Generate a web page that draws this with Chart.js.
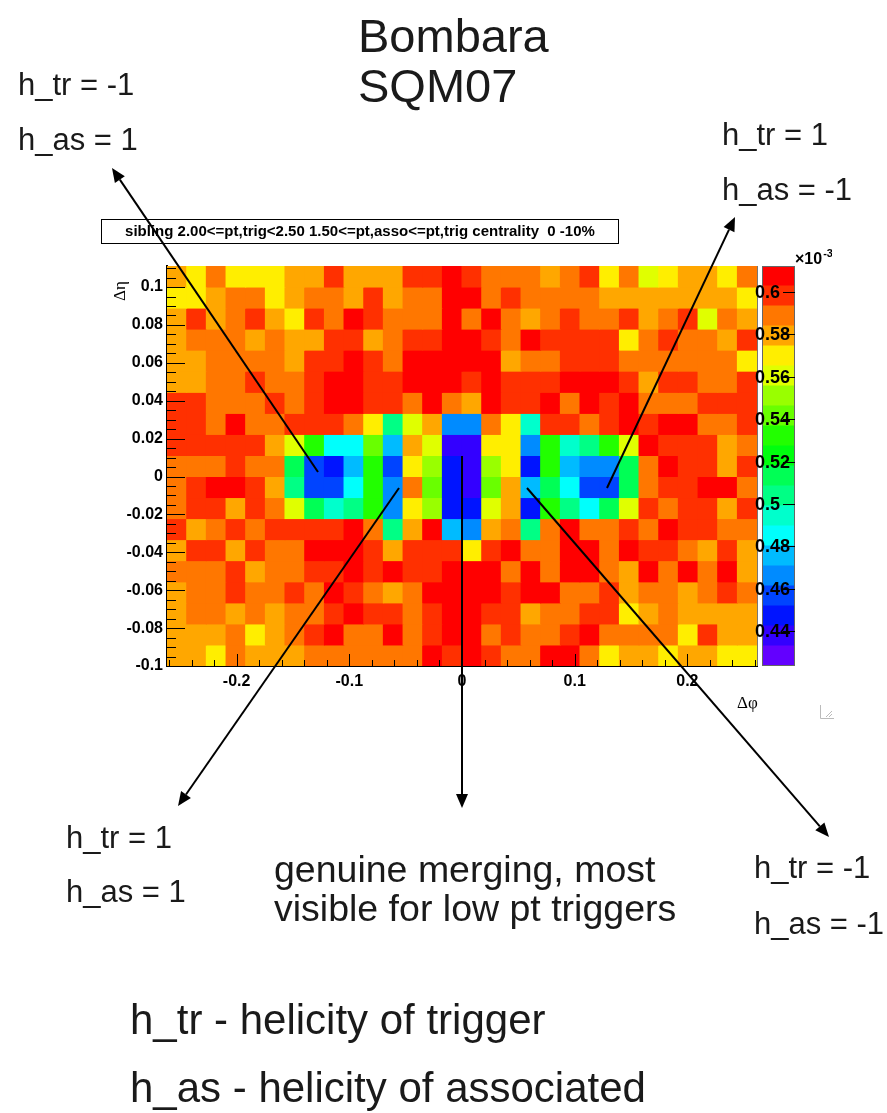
<!DOCTYPE html>
<html>
<head>
<meta charset="utf-8">
<script src="https://cdn.jsdelivr.net/npm/chart.js@4.4.1/dist/chart.umd.min.js"></script>
<style>
  html, body { margin: 0; padding: 0; background: #fff; }
  #page { position: relative; width: 887px; height: 1113px; overflow: hidden; }
  #main { position: absolute; left: 0; top: 0; width: 887px; height: 1113px; }
  #zbar { position: absolute; left: 740px; top: 240px; width: 100px; height: 445px; }
</style>
</head>
<body>
<div id="page">
  <canvas id="main" width="887" height="1113"></canvas>
  <canvas id="zbar" width="100" height="445"></canvas>
</div>
<script>
// delta phi bin centres (rad), 30 bins of 1 degree
const phiCenters = [
    -0.2531, -0.2356, -0.2182, -0.2007, -0.1833, -0.1658, -0.1484, -0.1309, -0.1134, -0.0960,
    -0.0785, -0.0611, -0.0436, -0.0262, -0.0087, 0.0087, 0.0262, 0.0436, 0.0611, 0.0785,
    0.0960, 0.1134, 0.1309, 0.1484, 0.1658, 0.1833, 0.2007, 0.2182, 0.2356, 0.2531,
];
// delta eta bin edges, top to bottom (19 rows)
const etaEdges = [
    0.1111, 0.1, 0.0889, 0.0778, 0.0667, 0.0556, 0.0444, 0.0333, 0.0222, 0.0111,
    0, -0.0111, -0.0222, -0.0333, -0.0444, -0.0556, -0.0667, -0.0778, -0.0889, -0.1,
];
const phiRange = [-0.2618, 0.2618];

const phiTicks = [-0.2, -0.1, 0, 0.1, 0.2];
const etaTicks = [-0.1, -0.08, -0.06, -0.04, -0.02, 0, 0.02, 0.04, 0.06, 0.08, 0.1];
const zTicks = [0.44, 0.46, 0.48, 0.5, 0.52, 0.54, 0.56, 0.58, 0.6];
const zMin = 0.4235;
const zMax = 0.6123;
const nLevels = 20;

// sibling pair density (x10^-3), one row per eta bin, top row first
const zRows = [
    [0.579, 0.569, 0.588, 0.569, 0.569, 0.569, 0.579, 0.579, 0.598, 0.579, 0.579, 0.579, 0.598, 0.598, 0.607, 0.598, 0.588, 0.588, 0.588, 0.579, 0.588, 0.598, 0.569, 0.588, 0.560, 0.569, 0.579, 0.579, 0.569, 0.588],
    [0.569, 0.569, 0.579, 0.588, 0.588, 0.569, 0.579, 0.588, 0.588, 0.579, 0.598, 0.579, 0.588, 0.588, 0.607, 0.607, 0.588, 0.598, 0.588, 0.588, 0.588, 0.588, 0.579, 0.579, 0.579, 0.579, 0.579, 0.579, 0.579, 0.569],
    [0.579, 0.598, 0.579, 0.588, 0.598, 0.579, 0.569, 0.598, 0.588, 0.607, 0.598, 0.588, 0.588, 0.588, 0.607, 0.588, 0.607, 0.588, 0.579, 0.588, 0.598, 0.588, 0.588, 0.598, 0.579, 0.588, 0.598, 0.560, 0.588, 0.579],
    [0.579, 0.588, 0.588, 0.588, 0.579, 0.588, 0.579, 0.579, 0.598, 0.598, 0.579, 0.588, 0.598, 0.598, 0.607, 0.607, 0.598, 0.588, 0.607, 0.598, 0.598, 0.598, 0.598, 0.569, 0.588, 0.598, 0.588, 0.588, 0.579, 0.598],
    [0.579, 0.579, 0.588, 0.588, 0.588, 0.588, 0.579, 0.598, 0.598, 0.607, 0.598, 0.588, 0.607, 0.607, 0.607, 0.607, 0.607, 0.579, 0.588, 0.588, 0.598, 0.598, 0.598, 0.588, 0.588, 0.588, 0.588, 0.588, 0.588, 0.569],
    [0.579, 0.579, 0.588, 0.588, 0.598, 0.588, 0.588, 0.598, 0.607, 0.607, 0.598, 0.598, 0.607, 0.607, 0.607, 0.598, 0.607, 0.598, 0.598, 0.598, 0.607, 0.607, 0.607, 0.598, 0.579, 0.598, 0.598, 0.588, 0.588, 0.598],
    [0.598, 0.598, 0.588, 0.588, 0.588, 0.598, 0.588, 0.598, 0.607, 0.607, 0.598, 0.598, 0.588, 0.607, 0.588, 0.579, 0.607, 0.598, 0.598, 0.607, 0.588, 0.607, 0.598, 0.607, 0.588, 0.588, 0.588, 0.598, 0.598, 0.598],
    [0.598, 0.598, 0.588, 0.607, 0.588, 0.588, 0.598, 0.598, 0.598, 0.588, 0.569, 0.503, 0.560, 0.579, 0.466, 0.466, 0.588, 0.569, 0.494, 0.598, 0.598, 0.588, 0.598, 0.607, 0.598, 0.607, 0.607, 0.588, 0.588, 0.598],
    [0.598, 0.598, 0.598, 0.598, 0.598, 0.579, 0.560, 0.532, 0.484, 0.484, 0.541, 0.475, 0.579, 0.560, 0.437, 0.437, 0.569, 0.569, 0.466, 0.532, 0.494, 0.503, 0.532, 0.560, 0.607, 0.598, 0.598, 0.598, 0.579, 0.588],
    [0.588, 0.588, 0.588, 0.598, 0.588, 0.588, 0.513, 0.456, 0.447, 0.475, 0.532, 0.456, 0.569, 0.551, 0.447, 0.437, 0.551, 0.569, 0.447, 0.532, 0.475, 0.466, 0.466, 0.513, 0.588, 0.607, 0.598, 0.598, 0.579, 0.598],
    [0.588, 0.598, 0.607, 0.607, 0.598, 0.579, 0.503, 0.456, 0.456, 0.484, 0.532, 0.466, 0.588, 0.541, 0.447, 0.437, 0.541, 0.579, 0.475, 0.513, 0.484, 0.456, 0.456, 0.513, 0.588, 0.598, 0.598, 0.607, 0.607, 0.588],
    [0.588, 0.598, 0.598, 0.579, 0.598, 0.588, 0.560, 0.513, 0.494, 0.503, 0.532, 0.466, 0.569, 0.551, 0.447, 0.447, 0.560, 0.579, 0.447, 0.532, 0.503, 0.484, 0.513, 0.560, 0.598, 0.588, 0.598, 0.598, 0.579, 0.598],
    [0.598, 0.579, 0.588, 0.598, 0.588, 0.598, 0.598, 0.598, 0.598, 0.607, 0.588, 0.503, 0.579, 0.607, 0.475, 0.466, 0.579, 0.588, 0.503, 0.588, 0.607, 0.588, 0.588, 0.598, 0.588, 0.607, 0.598, 0.598, 0.588, 0.588],
    [0.579, 0.598, 0.598, 0.579, 0.598, 0.588, 0.588, 0.607, 0.607, 0.607, 0.598, 0.579, 0.598, 0.598, 0.598, 0.569, 0.598, 0.607, 0.588, 0.588, 0.607, 0.607, 0.588, 0.607, 0.598, 0.598, 0.588, 0.579, 0.598, 0.579],
    [0.588, 0.588, 0.588, 0.598, 0.579, 0.588, 0.588, 0.598, 0.598, 0.607, 0.598, 0.607, 0.598, 0.598, 0.607, 0.607, 0.607, 0.588, 0.607, 0.588, 0.607, 0.607, 0.588, 0.579, 0.607, 0.588, 0.607, 0.588, 0.607, 0.579],
    [0.579, 0.588, 0.588, 0.598, 0.588, 0.588, 0.598, 0.588, 0.607, 0.598, 0.588, 0.579, 0.588, 0.607, 0.607, 0.607, 0.607, 0.598, 0.607, 0.607, 0.588, 0.588, 0.598, 0.579, 0.588, 0.588, 0.579, 0.588, 0.598, 0.588],
    [0.579, 0.588, 0.588, 0.579, 0.588, 0.579, 0.588, 0.588, 0.598, 0.607, 0.598, 0.598, 0.588, 0.598, 0.607, 0.607, 0.598, 0.598, 0.579, 0.588, 0.588, 0.598, 0.598, 0.569, 0.579, 0.588, 0.579, 0.579, 0.579, 0.579],
    [0.579, 0.579, 0.579, 0.588, 0.569, 0.579, 0.588, 0.598, 0.607, 0.588, 0.588, 0.607, 0.588, 0.598, 0.607, 0.607, 0.588, 0.598, 0.588, 0.588, 0.598, 0.607, 0.588, 0.588, 0.588, 0.588, 0.569, 0.598, 0.579, 0.579],
    [0.579, 0.579, 0.569, 0.588, 0.579, 0.579, 0.579, 0.588, 0.588, 0.588, 0.588, 0.588, 0.588, 0.607, 0.598, 0.607, 0.598, 0.588, 0.588, 0.607, 0.607, 0.588, 0.569, 0.579, 0.579, 0.569, 0.579, 0.579, 0.569, 0.569],
];

// ROOT "pretty" palette: 50 hues violet -> red, 20 contours picked from it
function levelColor(k) {
    const idx = Math.floor((k + 0.99) * 50 / nLevels);
    const hue = 280 - (idx + 1) * 280 / 50;
    return `hsl(${hue.toFixed(1)}, 100%, 50%)`;
}

function zColor(z) {
    const k = Math.floor((z - zMin) / (zMax - zMin) * nLevels);
    return levelColor(Math.max(0, Math.min(nLevels - 1, k)));
}

const tickLabel = (v) => String(+Number(v).toFixed(3));
const boldFont = (size) => ({ family: "'Liberation Sans', Arial, sans-serif", size, weight: 'bold' });
const SANS = "'Liberation Sans', Arial, Helvetica, sans-serif";

const slideTexts = [
    { text: 'Bombara', x: 358, y: 52, size: 47 },
    { text: 'SQM07', x: 358, y: 102, size: 47 },
    { text: 'h_tr = -1', x: 18, y: 95, size: 31 },
    { text: 'h_as = 1', x: 18, y: 150, size: 31 },
    { text: 'h_tr = 1', x: 722, y: 145, size: 31 },
    { text: 'h_as = -1', x: 722, y: 200, size: 31 },
    { text: 'h_tr = 1', x: 66, y: 848, size: 31 },
    { text: 'h_as = 1', x: 66, y: 902, size: 31 },
    { text: 'genuine merging, most', x: 274, y: 882, size: 37.5 },
    { text: 'visible for low pt triggers', x: 274, y: 921, size: 37.5 },
    { text: 'h_tr = -1', x: 754, y: 878, size: 31 },
    { text: 'h_as = -1', x: 754, y: 934, size: 31 },
    { text: 'h_tr - helicity of trigger', x: 130, y: 1034, size: 42 },
    { text: 'h_as - helicity of associated', x: 130, y: 1102, size: 42 },
];

const arrows = [
    [318, 472, 112, 168],
    [399, 488, 178, 806],
    [462, 456, 462, 808],
    [527, 488, 829, 837],
    [607, 488, 735, 217],
];

function drawArrow(ctx, x0, y0, x1, y1) {
    const ang = Math.atan2(y1 - y0, x1 - x0);
    const len = 14;
    const half = 6;
    const bx = x1 - len * Math.cos(ang);
    const by = y1 - len * Math.sin(ang);
    ctx.beginPath();
    ctx.moveTo(x0, y0);
    ctx.lineTo(bx, by);
    ctx.stroke();
    ctx.beginPath();
    ctx.moveTo(x1, y1);
    ctx.lineTo(bx + half * Math.sin(ang), by - half * Math.cos(ang));
    ctx.lineTo(bx - half * Math.sin(ang), by + half * Math.cos(ang));
    ctx.closePath();
    ctx.fill();
}

const innerTicks = {
    id: 'innerTicks',
    afterDatasetsDraw(chart) {
        const { ctx, chartArea: a, scales: { x, y } } = chart;
        ctx.save();
        ctx.strokeStyle = '#000';
        ctx.lineWidth = 1;
        ctx.beginPath();
        for (let i = -13; i <= 13; i++) {
            const px = Math.round(x.getPixelForValue(i * 0.02)) + 0.5;
            const len = i % 5 === 0 ? 12 : 6;
            ctx.moveTo(px, a.bottom);
            ctx.lineTo(px, a.bottom - len);
        }
        for (let i = -20; i <= 22; i++) {
            const py = Math.round(y.getPixelForValue(i * 0.005)) + 0.5;
            const len = i % 4 === 0 ? 18 : 9;
            ctx.moveTo(a.left, py);
            ctx.lineTo(a.left + len, py);
        }
        ctx.stroke();
        // right frame edge
        ctx.strokeStyle = '#777';
        ctx.beginPath();
        ctx.moveTo(Math.round(a.right) + 0.5, a.top);
        ctx.lineTo(Math.round(a.right) + 0.5, a.bottom);
        ctx.stroke();
        ctx.restore();
    },
    afterDraw(chart) {
        const ctx = chart.ctx;
        ctx.save();

        // histogram title box
        ctx.fillStyle = '#fff';
        ctx.fillRect(101, 219, 517, 24);
        ctx.strokeStyle = '#000';
        ctx.lineWidth = 1;
        ctx.strokeRect(101.5, 219.5, 517, 24);
        ctx.fillStyle = '#000';
        ctx.font = `bold 15px ${SANS}`;
        ctx.textAlign = 'center';
        ctx.textBaseline = 'middle';
        ctx.fillText('sibling 2.00<=pt,trig<2.50 1.50<=pt,asso<=pt,trig centrality  0 -10%', 360, 232);

        // axis titles
        ctx.font = "17px 'Liberation Serif', 'Times New Roman', serif";
        ctx.textAlign = 'left';
        ctx.textBaseline = 'alphabetic';
        ctx.fillText('\u0394\u03c6', 737, 708);
        ctx.save();
        ctx.translate(125, 301);
        ctx.rotate(-Math.PI / 2);
        ctx.fillText('\u0394\u03b7', 0, 0);
        ctx.restore();

        // canvas resize corner
        ctx.strokeStyle = '#bbb';
        ctx.beginPath();
        ctx.moveTo(820.5, 705);
        ctx.lineTo(820.5, 718.5);
        ctx.lineTo(834, 718.5);
        ctx.moveTo(826, 717);
        ctx.lineTo(832, 711);
        ctx.moveTo(829, 717);
        ctx.lineTo(832, 714);
        ctx.stroke();

        // slide annotations
        ctx.fillStyle = '#1a1a1a';
        for (const t of slideTexts) {
            ctx.font = `${t.size}px ${SANS}`;
            ctx.fillText(t.text, t.x, t.y);
        }

        ctx.strokeStyle = '#000';
        ctx.fillStyle = '#000';
        ctx.lineWidth = 2;
        for (const [x0, y0, x1, y1] of arrows) {
            drawArrow(ctx, x0, y0, x1, y1);
        }
        ctx.restore();
    },
};

const heatDatasets = zRows.map((row, r) => ({
    label: 'eta row ' + r,
    data: row.map((z, c) => ({ x: phiCenters[c], y: [etaEdges[r + 1], etaEdges[r]] })),
    backgroundColor: row.map(zColor),
    borderWidth: 0,
    inflateAmount: 0.5,
    grouped: false,
    barPercentage: 1,
    categoryPercentage: 1,
}));

new Chart(document.getElementById('main'), {
    type: 'bar',
    data: { datasets: heatDatasets },
    options: {
        responsive: false,
        animation: false,
        devicePixelRatio: 1,
        events: [],
        layout: { padding: { left: 107, right: 130, top: 266, bottom: 407 } },
        plugins: { legend: { display: false }, tooltip: { enabled: false } },
        scales: {
            x: {
                type: 'linear',
                min: phiRange[0],
                max: phiRange[1],
                offset: false,
                z: 1,
                grid: { display: false, drawTicks: false, offset: false },
                border: { display: true, color: '#000', width: 2 },
                afterBuildTicks: (s) => { s.ticks = phiTicks.map((v) => ({ value: v })); },
                afterFit: (s) => { s.height = 40; },
                ticks: { callback: tickLabel, font: boldFont(16), color: '#000', padding: 6, maxRotation: 0 },
            },
            y: {
                type: 'linear',
                min: etaEdges[etaEdges.length - 1],
                max: etaEdges[0],
                z: 1,
                grid: { display: false, drawTicks: false },
                border: { display: true, color: '#000', width: 2 },
                afterBuildTicks: (s) => { s.ticks = etaTicks.map((v) => ({ value: v })); },
                afterFit: (s) => { s.width = 60; },
                ticks: { callback: tickLabel, font: boldFont(16), color: '#000', padding: 4 },
            },
        },
    },
    plugins: [innerTicks],
});

// colour scale
const zStep = (zMax - zMin) / nLevels;
const bandDatasets = Array.from({ length: nLevels }, (_, k) => ({
    label: 'level ' + k,
    data: [[zMin + k * zStep, zMin + (k + 1) * zStep]],
    backgroundColor: levelColor(k),
    borderWidth: 0,
    inflateAmount: 0.5,
    grouped: false,
    barPercentage: 1,
    categoryPercentage: 1,
}));

const zAxis = {
    id: 'zAxis',
    afterDraw(chart) {
        const { ctx, chartArea: a, scales: { y } } = chart;
        ctx.save();
        ctx.strokeStyle = '#666';
        ctx.lineWidth = 1;
        ctx.strokeRect(Math.round(a.left) + 0.5, Math.round(a.top) + 0.5, Math.round(a.width) - 1, Math.round(a.height) - 1);
        ctx.strokeStyle = '#000';
        ctx.fillStyle = '#000';
        ctx.font = `bold 18px ${SANS}`;
        ctx.textAlign = 'left';
        ctx.textBaseline = 'middle';
        for (const v of zTicks) {
            const py = Math.round(y.getPixelForValue(v)) + 0.5;
            ctx.beginPath();
            ctx.moveTo(a.right - 12, py);
            ctx.lineTo(a.right, py);
            ctx.stroke();
            ctx.fillText(tickLabel(v), 15, py + 1);
        }
        // exponent label, cut at the pad edge as in the original
        ctx.beginPath();
        ctx.rect(0, 0, 92, chart.height);
        ctx.clip();
        ctx.textBaseline = 'alphabetic';
        ctx.font = `bold 16px ${SANS}`;
        ctx.fillText('\u00d710', 55, 24);
        const w = ctx.measureText('\u00d710').width;
        ctx.font = `bold 11px ${SANS}`;
        ctx.fillText('-3', 55 + w + 1, 17);
        ctx.restore();
    },
};

new Chart(document.getElementById('zbar'), {
    type: 'bar',
    data: { labels: ['z'], datasets: bandDatasets },
    options: {
        responsive: false,
        animation: false,
        devicePixelRatio: 1,
        events: [],
        layout: { padding: { left: 22, right: 45, top: 26, bottom: 19 } },
        plugins: { legend: { display: false }, tooltip: { enabled: false } },
        scales: {
            x: { display: false },
            y: { display: false, min: zMin, max: zMax },
        },
    },
    plugins: [zAxis],
});
</script>
</body>
</html>
